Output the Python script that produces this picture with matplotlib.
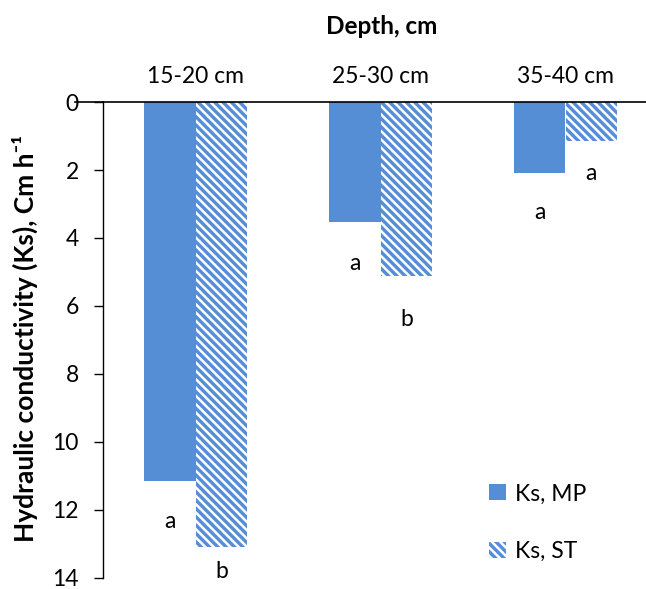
import numpy as np
import matplotlib
matplotlib.use("Agg")
import matplotlib.pyplot as plt

# data
depths = ["15-20 cm", "25-30 cm", "35-40 cm"]
ks_mp = [11.15, 3.53, 2.09]
ks_st = [13.1, 5.12, 1.15]
letters_mp = ["a", "a", "a"]
letters_st = ["b", "b", "a"]
# where the letters sit on the value axis
letter_y_mp = [12.35, 4.74, 3.26]
letter_y_st = [13.82, 6.41, 2.09]

plt.rcParams['font.family'] = ['Lato', 'DejaVu Sans']
plt.rcParams['hatch.linewidth'] = 1.8
plt.rcParams['hatch.color'] = 'white'

blue = '#558ED5'
fs = 16.5

fig = plt.figure(figsize=(6.46, 5.89), dpi=100)
ax = fig.add_axes([103 / 646, 11 / 589, 555 / 646, 476 / 589])

x = np.arange(len(depths))
w = 0.28
ax.bar(x - w / 2, ks_mp, w, color=blue, label='Ks, MP')
ax.bar(x + w / 2, ks_st, w, color=blue, hatch='\\\\\\\\', edgecolor='white', linewidth=0, label='Ks, ST')

# significance letters below the bars
for i in range(len(depths)):
    ax.text(x[i] - w / 2, letter_y_mp[i], letters_mp[i], ha='center', va='center', fontsize=fs)
    ax.text(x[i] + w / 2, letter_y_st[i], letters_st[i], ha='center', va='center', fontsize=fs)

ax.set_xlim(-0.5, 2.5)
ax.set_ylim(14, 0)
ax.set_yticks(range(0, 15, 2))
ax.xaxis.tick_top()
ax.set_xticks(x)
ax.set_xticklabels(depths, fontsize=fs)
ax.tick_params(axis='x', length=0, pad=11)
ax.tick_params(axis='y', direction='out', length=6.5, width=1, labelsize=fs, pad=11)

ax.spines['right'].set_visible(False)
ax.spines['bottom'].set_visible(False)
ax.spines['top'].set_linewidth(1.2)
ax.spines['left'].set_linewidth(1)
ax.plot([-0.05, 0], [1, 1], transform=ax.transAxes, color='black', lw=1.2, clip_on=False)

fig.text(25 / 646, 1 - 338 / 589, 'Hydraulic conductivity (Ks), Cm h\u207b\u00b9', rotation=90,
         ha='center', va='center', fontsize=19, fontweight='bold')
fig.text(382 / 646, 1 - 26 / 589, 'Depth, cm', ha='center', va='center', fontsize=17.5, fontweight='bold')

ax.legend(loc='upper left', bbox_to_anchor=(478 / 646, 1 - 472 / 589), bbox_transform=fig.transFigure,
          frameon=False, fontsize=fs, handlelength=0.7, handleheight=0.7, handletextpad=0.4,
          labelspacing=1.6, borderpad=0)

fig.savefig('out.png', dpi=100)
